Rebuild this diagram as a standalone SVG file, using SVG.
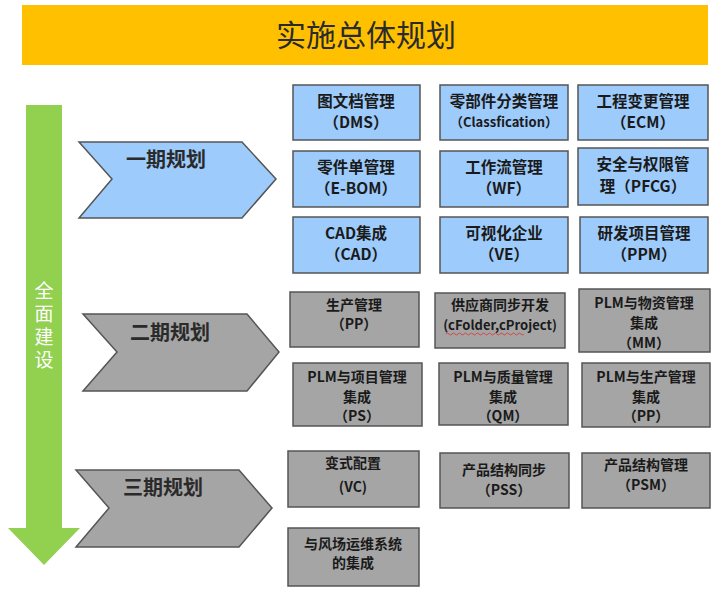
<svg xmlns="http://www.w3.org/2000/svg" width="718" height="593" viewBox="0 0 718 593">
<style>
.cjk{font-family:"Noto Sans CJK SC","Liberation Sans",sans-serif}
.box{stroke:#555;stroke-width:1.5}
.blue{fill:#9dcbfb}
.gray{fill:#a5a5a5}
.bt{font-family:"Noto Sans CJK SC","Liberation Sans",sans-serif;font-weight:bold;font-size:15.5px;fill:#1a1a1a;text-anchor:middle}
.gt{font-family:"Noto Sans CJK SC","Liberation Sans",sans-serif;font-weight:bold;font-size:14px;fill:#1a1a1a;text-anchor:middle}
.ct{font-family:"Noto Sans CJK SC","Liberation Sans",sans-serif;font-weight:bold;font-size:20px;fill:#2a2a2a;text-anchor:middle}
.chev{stroke:#555;stroke-width:1.5}
</style>
<rect width="718" height="593" fill="#ffffff"/>
<g id="title">
<rect x="22" y="5" width="686" height="60" fill="#ffc000"/>
<text x="366" y="46" class="cjk" font-size="30" fill="#2a2a2a" text-anchor="middle">实施总体规划</text>
</g>
<g id="main-arrow">
<polygon points="26,105 62,105 62,528 80,528 44,565 8,528 26,528" fill="#92d050"/>
<text x="44" y="281" class="cjk" font-size="19" fill="#ffffff" style="writing-mode:vertical-rl;letter-spacing:4px">全面建设</text>
</g>
<g id="phase1">
<polygon class="chev" points="79,142 242,142 276,179 242,218 79,218 112,179" fill="#9dcbfb"/>
<text x="166" y="167" class="ct">一期规划</text>
</g>
<g id="phase2">
<polygon class="chev" points="83,314 247,314 279,352 247,391 83,391 117,352" fill="#a5a5a5"/>
<text x="170" y="340" class="ct">二期规划</text>
</g>
<g id="phase3">
<polygon class="chev" points="76,470 239,470 272,508 239,547 76,547 109,508" fill="#a5a5a5"/>
<text x="163" y="495" class="ct">三期规划</text>
</g>
<g id="connectors"></g>
<g id="dms"><rect class="box blue" x="293" y="85" width="127" height="55"/>
<text class="bt"><tspan x="356" y="107">图文档管理</tspan><tspan x="356" y="128">（DMS）</tspan></text></g>
<g id="classfication"><rect class="box blue" x="440" y="85" width="128" height="55"/>
<text class="bt"><tspan x="504" y="107">零部件分类管理</tspan><tspan x="504" y="127" font-size="13">（Classfication）</tspan></text></g>
<g id="ecm"><rect class="box blue" x="578" y="85" width="130" height="55"/>
<text class="bt"><tspan x="643" y="107">工程变更管理</tspan><tspan x="643" y="128">（ECM）</tspan></text></g>
<g id="ebom"><rect class="box blue" x="293" y="151" width="127" height="56"/>
<text class="bt"><tspan x="356" y="173">零件单管理</tspan><tspan x="356" y="194">（E-BOM）</tspan></text></g>
<g id="wf"><rect class="box blue" x="440" y="151" width="128" height="56"/>
<text class="bt"><tspan x="504" y="173">工作流管理</tspan><tspan x="504" y="194">（WF）</tspan></text></g>
<g id="pfcg"><rect class="box blue" x="578" y="148" width="130" height="57"/>
<text class="bt"><tspan x="643" y="170">安全与权限管</tspan><tspan x="643" y="192">理（PFCG）</tspan></text></g>
<g id="cad"><rect class="box blue" x="293" y="217" width="127" height="56"/>
<text class="bt"><tspan x="356" y="239">CAD集成</tspan><tspan x="356" y="260">（CAD）</tspan></text></g>
<g id="ve"><rect class="box blue" x="440" y="217" width="128" height="56"/>
<text class="bt"><tspan x="504" y="239">可视化企业</tspan><tspan x="504" y="260">（VE）</tspan></text></g>
<g id="ppm"><rect class="box blue" x="580" y="217" width="128" height="56"/>
<text class="bt"><tspan x="644" y="239">研发项目管理</tspan><tspan x="644" y="260">（PPM）</tspan></text></g>
<g id="pp1"><rect class="box gray" x="290" y="292" width="129" height="55"/>
<text class="gt"><tspan x="354" y="310">生产管理</tspan><tspan x="354" y="329">（PP）</tspan></text></g>
<g id="cfolder"><rect class="box gray" x="435" y="293" width="130" height="55"/>
<text class="gt"><tspan x="500" y="310">供应商同步开发</tspan><tspan x="500" y="330" font-size="13">(cFolder,cProject)</tspan></text>
<path d="M446,334 q1.5,-2 3,0 t3,0 t3,0 t3,0 t3,0 t3,0 t3,0 t3,0 t3,0 t3,0 t3,0 t3,0 t3,0 t3,0 t3,0 t3,0 t3,0 t3,0 t3,0 t3,0 t3,0 t3,0 t3,0 t3,0 t3,0 t3,0" fill="none" stroke="#e03030" stroke-width="0.8"/></g>
<g id="mm"><rect class="box gray" x="579" y="289" width="131" height="63"/>
<text class="gt"><tspan x="644" y="308">PLM与物资管理</tspan><tspan x="644" y="328">集成</tspan><tspan x="644" y="348">（MM）</tspan></text></g>
<g id="ps"><rect class="box gray" x="293" y="363" width="129" height="63"/>
<text class="gt"><tspan x="357" y="382">PLM与项目管理</tspan><tspan x="357" y="402">集成</tspan><tspan x="357" y="421">（PS）</tspan></text></g>
<g id="qm"><rect class="box gray" x="439" y="363" width="129" height="62"/>
<text class="gt"><tspan x="503" y="382">PLM与质量管理</tspan><tspan x="503" y="402">集成</tspan><tspan x="503" y="421">（QM）</tspan></text></g>
<g id="pp2"><rect class="box gray" x="582" y="363" width="128" height="64"/>
<text class="gt"><tspan x="646" y="382">PLM与生产管理</tspan><tspan x="646" y="402">集成</tspan><tspan x="646" y="421">（PP）</tspan></text></g>
<g id="vc"><rect class="box gray" x="288" y="451" width="131" height="56"/>
<text class="gt"><tspan x="353" y="468">变式配置</tspan><tspan x="353" y="492">(VC)</tspan></text></g>
<g id="pss"><rect class="box gray" x="440" y="453" width="129" height="55"/>
<text class="gt"><tspan x="504" y="475">产品结构同步</tspan><tspan x="504" y="495">（PSS）</tspan></text></g>
<g id="psm"><rect class="box gray" x="582" y="453" width="128" height="55"/>
<text class="gt"><tspan x="646" y="470">产品结构管理</tspan><tspan x="646" y="490">（PSM）</tspan></text></g>
<g id="wind"><rect class="box gray" x="288" y="528" width="131" height="58"/>
<text class="gt"><tspan x="353" y="549">与风场运维系统</tspan><tspan x="353" y="568">的集成</tspan></text></g>
</svg>
